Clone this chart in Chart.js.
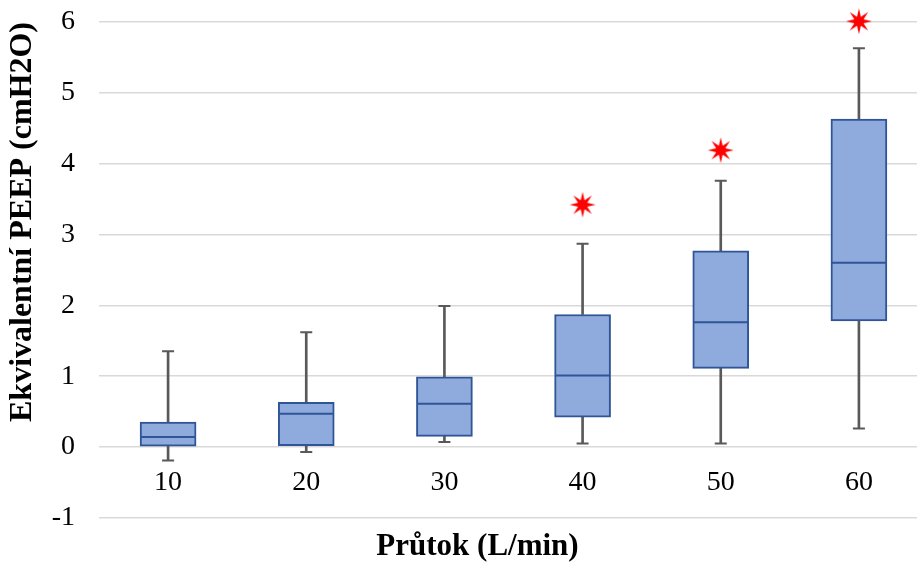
<!DOCTYPE html>
<html>
<head>
<meta charset="utf-8">
<script src="https://cdn.jsdelivr.net/npm/chart.js@4"></script>
<style>
  html, body { margin: 0; padding: 0; overflow: hidden; background: #fff; }
  #wrap { position: absolute; left: 0; top: -7px; width: 957px; height: 574px; }
</style>
</head>
<body>
<div id="wrap"><canvas id="peepChart"></canvas></div>
<script>
const labels = ["10", "20", "30", "40", "50", "60"];
const whiskerLow = [-0.19, -0.07, 0.07, 0.05, 0.05, 0.26];
const q1 = [0.01, 0.02, 0.15, 0.42, 1.11, 1.78];
const median = [0.14, 0.47, 0.61, 1.01, 1.76, 2.6];
const q3 = [0.35, 0.63, 0.99, 1.87, 2.77, 4.63];
const whiskerHigh = [1.35, 1.62, 1.99, 2.87, 3.76, 5.63];
const outliers = [null, null, null, 3.42, 4.19, 6.01];
const yTicks = [-1, 0, 1, 2, 3, 4, 5, 6];

const FONT = "'Liberation Serif', 'Times New Roman', serif";
const BOX_FILL = "#8FAADC";
const BOX_LINE = "#2F5597";
const WHISKER = "#595959";

// red 8-point star used as marker for the outliers
function makeStar() {
  const c = document.createElement("canvas");
  c.width = 28;
  c.height = 28;
  const g = c.getContext("2d");
  const spikes = 8, outer = 13, inner = 5;
  g.beginPath();
  for (let i = 0; i < spikes * 2; i++) {
    const r = i % 2 === 0 ? outer : inner;
    const a = -Math.PI / 2 + (i * Math.PI) / spikes;
    const x = 14 + Math.cos(a) * r;
    const y = 14 + Math.sin(a) * r;
    i === 0 ? g.moveTo(x, y) : g.lineTo(x, y);
  }
  g.closePath();
  g.fillStyle = "#FF0000";
  g.fill();
  return c;
}

document.addEventListener("DOMContentLoaded", () => {
  const ctx = document.getElementById("peepChart").getContext("2d");

  const data = {
    labels: labels,
    datasets: [
      {
        type: "bar",
        data: labels.map((_, i) => [whiskerLow[i], q1[i]]),
        backgroundColor: WHISKER,
        borderWidth: 0,
        barThickness: 2,
        grouped: false,
        order: 5,
      },
      {
        type: "bar",
        data: labels.map((_, i) => [q3[i], whiskerHigh[i]]),
        backgroundColor: WHISKER,
        borderWidth: 0,
        barThickness: 2,
        grouped: false,
        order: 5,
      },
      {
        type: "bar",
        data: labels.map((_, i) => [q1[i], q3[i]]),
        backgroundColor: BOX_FILL,
        borderColor: BOX_LINE,
        borderWidth: 2,
        borderSkipped: false,
        barThickness: 56,
        grouped: false,
        order: 4,
      },
      {
        type: "line",
        data: median,
        showLine: false,
        pointStyle: "line",
        pointRadius: 27,
        pointHoverRadius: 27,
        pointBorderWidth: 2,
        borderColor: BOX_LINE,
        order: 3,
      },
      {
        type: "line",
        data: whiskerLow,
        showLine: false,
        pointStyle: "line",
        pointRadius: 6,
        pointBorderWidth: 2,
        borderColor: WHISKER,
        order: 2,
      },
      {
        type: "line",
        data: whiskerHigh,
        showLine: false,
        pointStyle: "line",
        pointRadius: 6,
        pointBorderWidth: 2,
        borderColor: WHISKER,
        order: 2,
      },
      {
        type: "line",
        data: outliers,
        showLine: false,
        clip: false,
        pointStyle: makeStar(),
        order: 1,
      },
    ],
  };

  const config = {
    type: "bar",
    data: data,
    options: {
      responsive: true,
      maintainAspectRatio: false,
      animation: false,
      layout: { padding: { left: 0, right: 2, top: 21, bottom: 0 } },
      scales: {
        x: {
          position: { y: 0 },
          offset: true,
          grid: { display: false },
          border: { display: false },
          ticks: {
            color: "#000",
            padding: 11,
            font: { family: FONT, size: 28 },
          },
        },
        y: {
          min: -1,
          max: 6,
          afterBuildTicks: (scale) => {
            scale.ticks = yTicks.map((v) => ({ value: v }));
          },
          afterFit: (scale) => {
            scale.width = 99;
            scale.paddingTop = 0;
            scale.paddingBottom = 0;
          },
          grid: { color: "#D9D9D9", lineWidth: 1.5, drawTicks: false },
          border: { display: false },
          ticks: {
            color: "#000",
            padding: 24,
            font: { family: FONT, size: 28 },
          },
          title: {
            display: true,
            text: "Ekvivalentní PEEP (cmH2O)",
            align: "end",
            color: "#000",
            padding: { top: 4, bottom: 0 },
            font: { family: FONT, size: 32, weight: "bold" },
          },
        },
      },
      plugins: {
        legend: { display: false },
        tooltip: { enabled: false },
        title: {
          display: true,
          position: "bottom",
          text: "Průtok (L/min)",
          color: "#000",
          padding: { top: 11, bottom: 1 },
          font: { family: FONT, size: 31, weight: "bold" },
        },
      },
    },
  };

  new Chart(ctx, config);
});
</script>
</body>
</html>
